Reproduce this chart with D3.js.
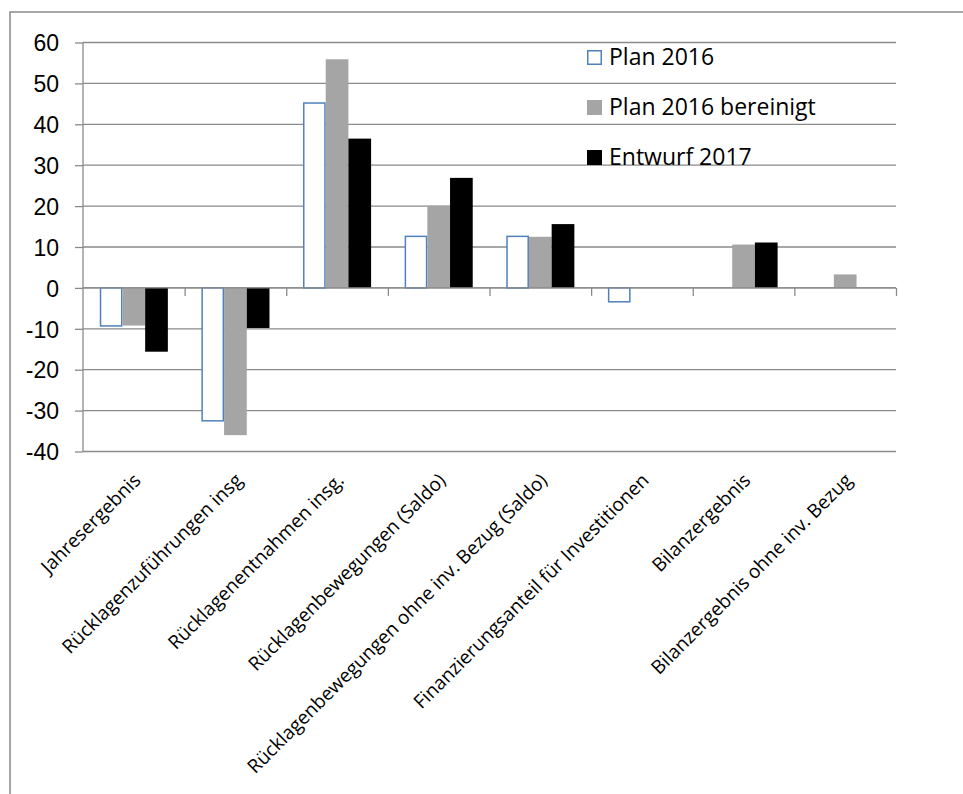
<!DOCTYPE html>
<html>
<head>
<meta charset="utf-8">
<script src="https://cdn.jsdelivr.net/npm/d3@7/dist/d3.min.js"></script>
<style>
  body { margin: 0; background: #fff; }
  svg { display: block; font-family: "Open Sans", sans-serif; }
  .grid line { stroke: #8a8a8a; stroke-width: 1.3; }
  .axis path, .axis line { stroke: #8a8a8a; stroke-width: 1.3; }
  .axis text { fill: #000; }
</style>
</head>
<body>
<svg width="963" height="794"></svg>
<script>
// categories and series
var categories = [
  "Jahresergebnis",
  "Rücklagenzuführungen insg",
  "Rücklagenentnahmen insg.",
  "Rücklagenbewegungen (Saldo)",
  "Rücklagenbewegungen ohne inv. Bezug (Saldo)",
  "Finanzierungsanteil für Investitionen",
  "Bilanzergebnis",
  "Bilanzergebnis ohne inv. Bezug"
];
var seriesNames = ["Plan 2016", "Plan 2016 bereinigt", "Entwurf 2017"];
var plan2016 = [-9.3, -32.5, 45.2, 12.6, 12.6, -3.4, 0, 0];
var plan2016Bereinigt = [-9.2, -36.0, 55.9, 20.1, 12.5, 0, 10.6, 3.3];
var entwurf2017 = [-15.6, -9.8, 36.5, 26.9, 15.6, 0, 11.1, 0];
var yTicks = [-40, -30, -20, -10, 0, 10, 20, 30, 40, 50, 60];

var seriesValues = [plan2016, plan2016Bereinigt, entwurf2017];
var fills = ["#ffffff", "#a5a5a5", "#000000"];
var strokes = ["#4f81bd", "none", "none"];

var svg = d3.select("svg");

// outer frame
svg.append("path")
    .attr("d", "M10,794 V12 H963")
    .attr("fill", "none")
    .attr("stroke", "#8a8a8a")
    .attr("stroke-width", 1.5);

var margin = {left: 83, top: 42.5},
    width = 896 - 83,
    height = 451.5 - 42.5;

var g = svg.append("g").attr("transform", "translate(" + margin.left + "," + margin.top + ")");

var y = d3.scaleLinear().domain([-40, 60]).range([height, 0]);
var x0 = d3.scaleBand().domain(categories).range([0, width]).paddingInner(0.33).paddingOuter(0.165);
var x1 = d3.scaleBand().domain(seriesNames).range([0, x0.bandwidth()]);

// gridlines
g.append("g")
    .attr("class", "grid")
    .selectAll("line")
    .data(yTicks)
    .enter().append("line")
    .attr("x1", 0)
    .attr("x2", width)
    .attr("y1", function(d) { return y(d); })
    .attr("y2", function(d) { return y(d); });

// y axis
var yAxis = g.append("g")
    .attr("class", "axis")
    .call(d3.axisLeft(y).tickValues(yTicks).tickSize(8).tickPadding(16)
        .tickFormat(function(d) { return String(d); }));
yAxis.select(".domain").attr("d", "M0," + y(60) + "V" + y(-40));
yAxis.selectAll("text").style("font-size", "23px").attr("dy", "0.36em");

// bars
var groups = g.selectAll(".cat")
    .data(categories)
    .enter().append("g")
    .attr("transform", function(d) { return "translate(" + x0(d) + ",0)"; });

groups.selectAll("rect")
    .data(function(d, i) {
        return seriesNames.map(function(s, k) { return {s: s, k: k, v: seriesValues[k][i]}; });
    })
    .enter().append("rect")
    .filter(function(d) { return d.v !== 0; })
    .attr("x", function(d) { return x1(d.s) + (d.k === 0 ? 0.75 : 0); })
    .attr("width", function(d) { return x1.bandwidth() - (d.k === 0 ? 1.5 : 0); })
    .attr("y", function(d) { return y(Math.max(0, d.v)); })
    .attr("height", function(d) { return Math.abs(y(d.v) - y(0)); })
    .attr("fill", function(d) { return fills[d.k]; })
    .attr("stroke", function(d) { return strokes[d.k]; })
    .attr("stroke-width", 1.5);

// x axis at zero with ticks between categories
var xb = d3.scaleLinear().domain([0, categories.length]).range([0, width]);
var xAxis = g.append("g")
    .attr("class", "axis")
    .attr("transform", "translate(0," + y(0) + ")")
    .call(d3.axisBottom(xb).ticks(categories.length).tickSize(8).tickFormat(""));
xAxis.selectAll(".tick").filter(function(d) { return d === 0; }).remove();
xAxis.select(".domain").attr("d", "M0,0H" + width);

// category labels, rotated
g.append("g")
    .selectAll("text")
    .data(categories)
    .enter().append("text")
    .attr("transform", function(d) {
        return "translate(" + (x0(d) + x0.bandwidth() / 2 + 8) + "," + (height + 30) + ") rotate(-45)";
    })
    .attr("text-anchor", "end")
    .style("font-size", "19px")
    .text(function(d) { return d; });

// legend
var legend = svg.append("g").attr("transform", "translate(587,50)");
var item = legend.selectAll("g")
    .data(seriesNames)
    .enter().append("g")
    .attr("transform", function(d, i) { return "translate(0," + i * 50 + ")"; });
item.append("rect")
    .attr("x", function(d, i) { return i === 0 ? 0.75 : 0; })
    .attr("y", function(d, i) { return i === 0 ? 0.75 : 0; })
    .attr("width", function(d, i) { return i === 0 ? 13.5 : 15; })
    .attr("height", function(d, i) { return i === 0 ? 13.5 : 15; })
    .attr("fill", function(d, i) { return fills[i]; })
    .attr("stroke", function(d, i) { return strokes[i]; })
    .attr("stroke-width", 1.5);
item.append("text")
    .attr("x", 22)
    .attr("y", 15)
    .style("font-size", "23px")
    .text(function(d) { return d; });
</script>
</body>
</html>
